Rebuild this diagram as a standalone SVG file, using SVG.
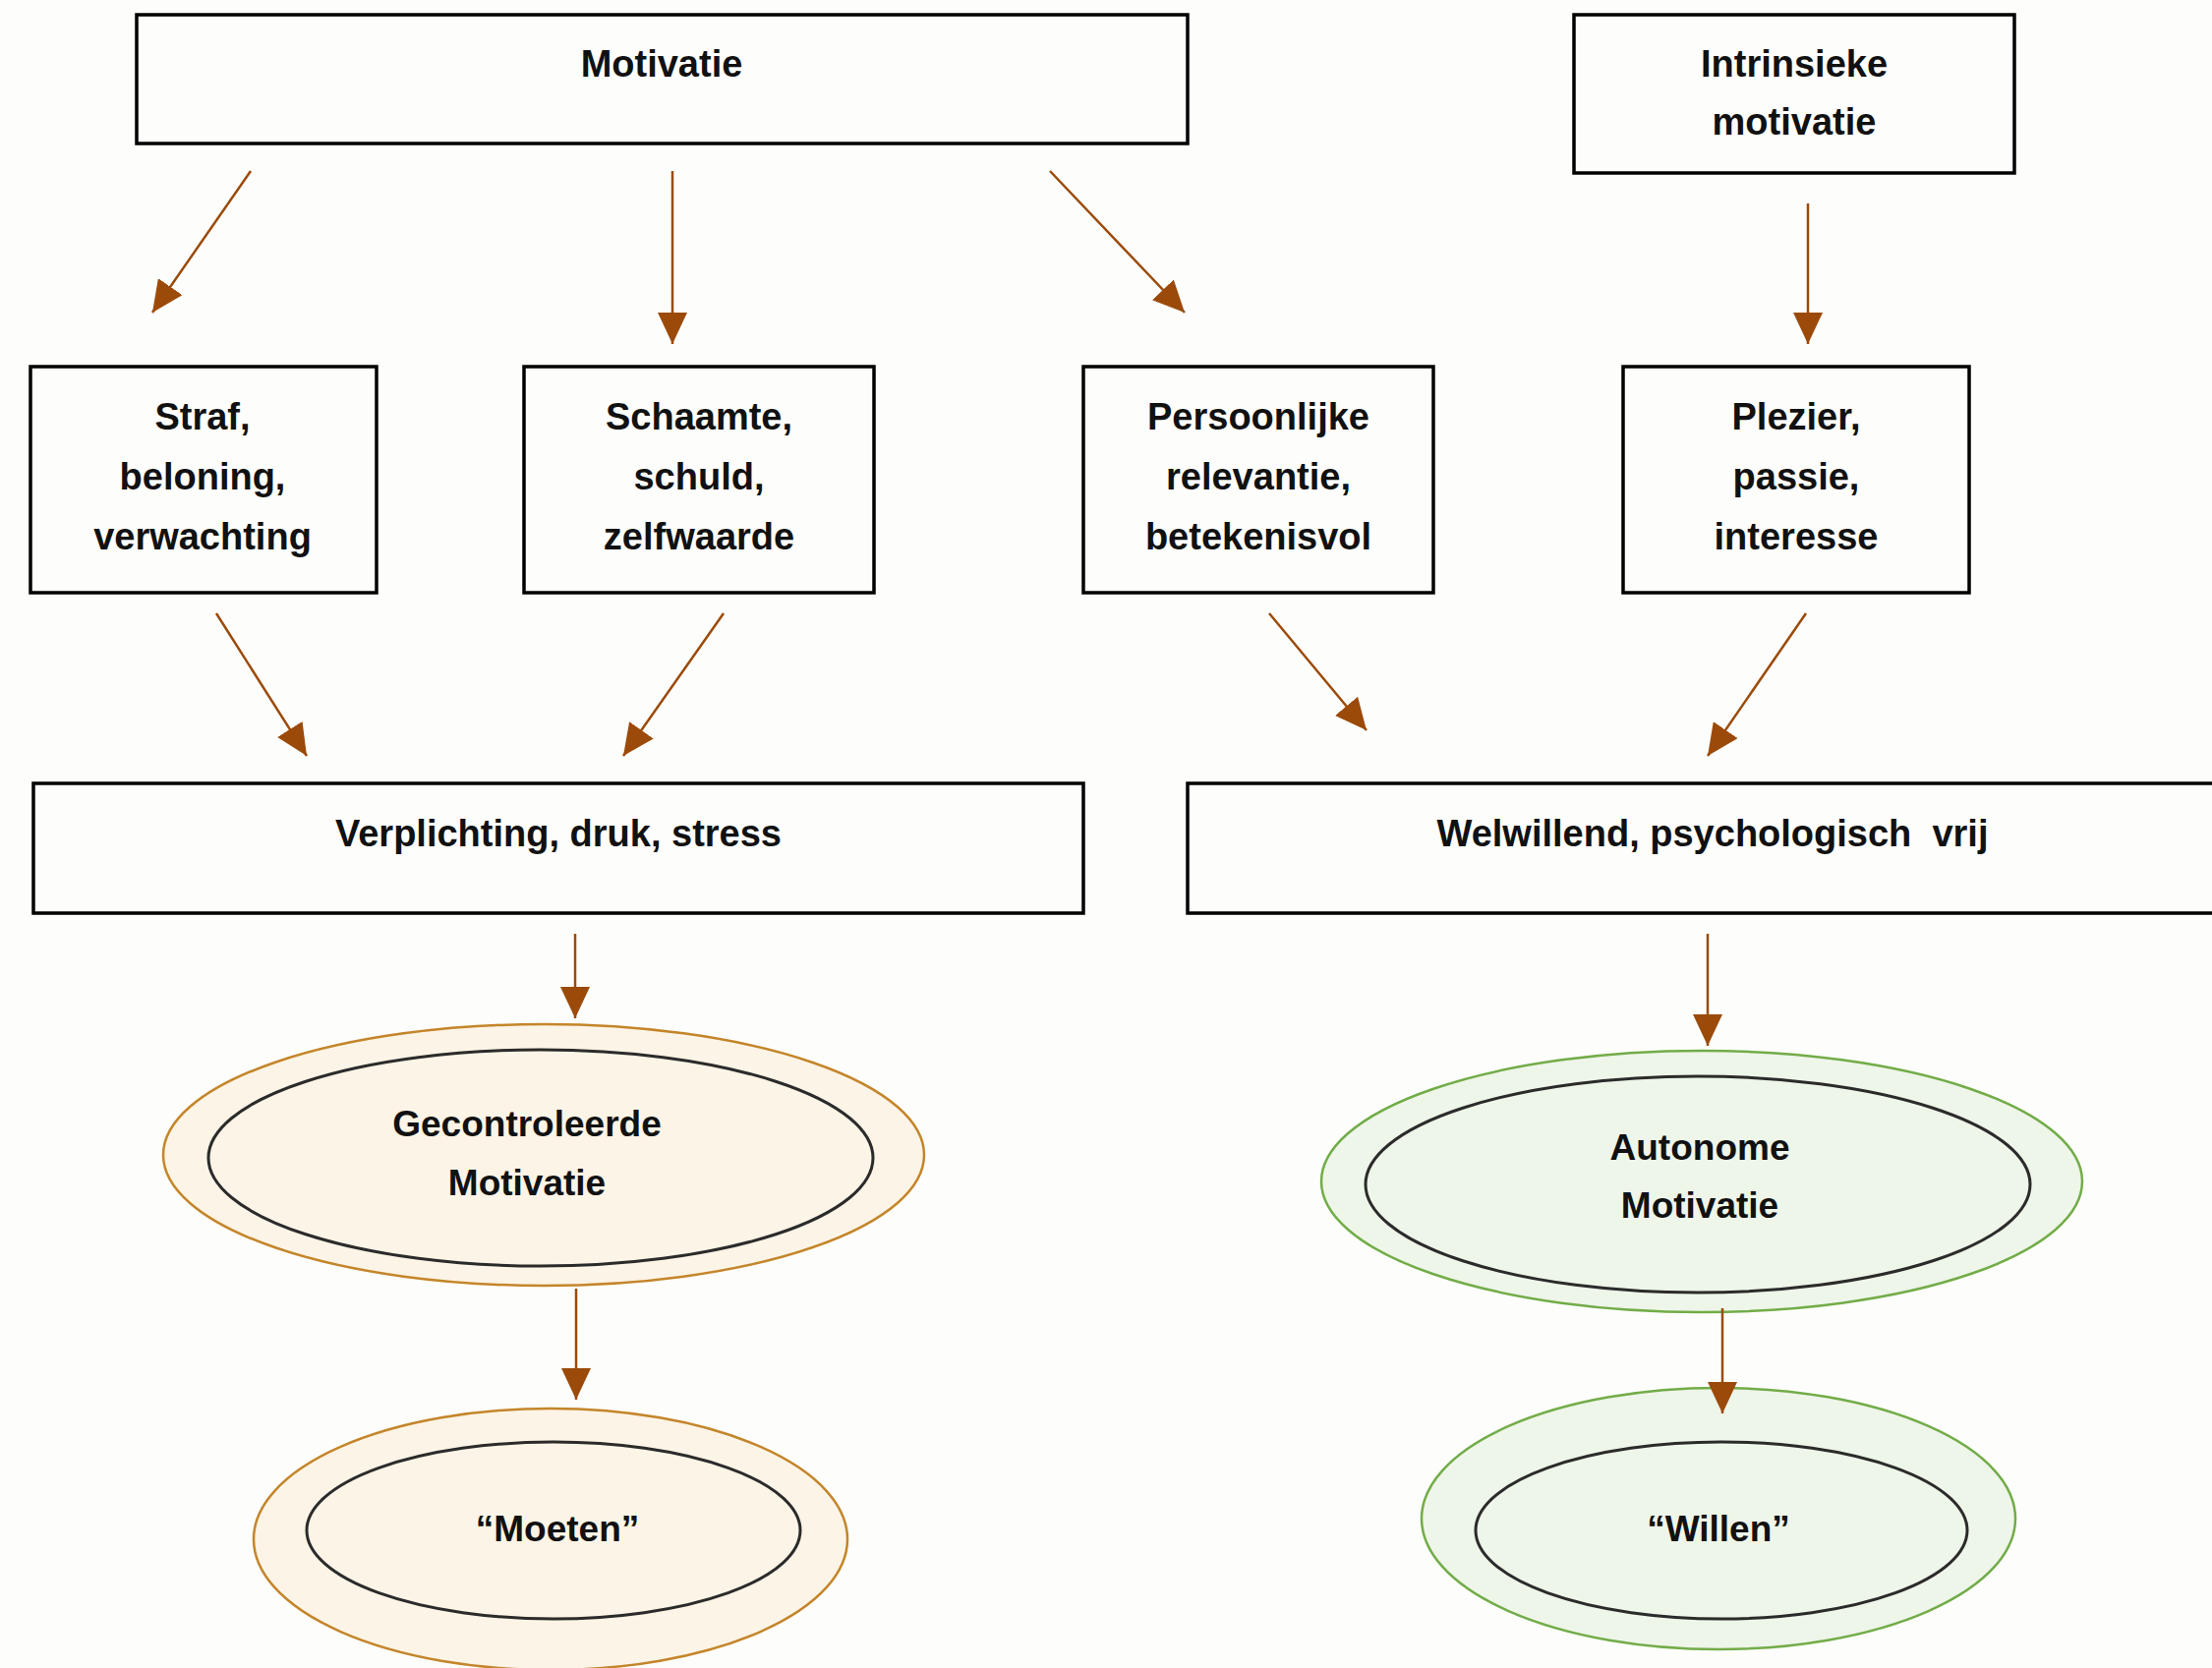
<svg xmlns="http://www.w3.org/2000/svg" width="2250" height="1697" viewBox="0 0 2250 1697">
<style>
.box{fill:#fdfefb;stroke:#000;stroke-width:3.5}
.t{font-family:"Liberation Sans",Arial,sans-serif;font-weight:bold;font-size:38px;fill:#111;text-anchor:middle;white-space:pre}
.te{font-size:37px}
.conn line{stroke:#9b4a0a;stroke-width:2.5;marker-end:url(#ah)}
.oo{fill:#fcf4e6;stroke:#c4852a;stroke-width:2.5}
.og{fill:#eef5e9;stroke:#72ac48;stroke-width:2.5}
.in{fill:none;stroke:#2b2b2b;stroke-width:3}
</style>
<defs>
<marker id="ah" markerUnits="userSpaceOnUse" markerWidth="32" markerHeight="30" refX="32" refY="15" orient="auto">
<path d="M0,0 L32,15 L0,30 z" fill="#9b4a0a"/>
</marker>
</defs>
<rect width="2250" height="1697" fill="#fdfefb"/>

<g id="n-motivatie"><rect class="box" x="139" y="15" width="1069" height="131"/><text class="t" x="673" y="78">Motivatie</text></g>
<g id="n-intrinsiek"><rect class="box" x="1601" y="15" width="448" height="161"/><text class="t" x="1825" y="78">Intrinsieke</text><text class="t" x="1825" y="137">motivatie</text></g>

<g id="n-straf"><rect class="box" x="31" y="373" width="352" height="230"/><text class="t" x="206" y="437">Straf,</text><text class="t" x="206" y="498">beloning,</text><text class="t" x="206" y="559">verwachting</text></g>
<g id="n-schaamte"><rect class="box" x="533" y="373" width="356" height="230"/><text class="t" x="711" y="437">Schaamte,</text><text class="t" x="711" y="498">schuld,</text><text class="t" x="711" y="559">zelfwaarde</text></g>
<g id="n-persoonlijk"><rect class="box" x="1102" y="373" width="356" height="230"/><text class="t" x="1280" y="437">Persoonlijke</text><text class="t" x="1280" y="498">relevantie,</text><text class="t" x="1280" y="559">betekenisvol</text></g>
<g id="n-plezier"><rect class="box" x="1651" y="373" width="352" height="230"/><text class="t" x="1827" y="437">Plezier,</text><text class="t" x="1827" y="498">passie,</text><text class="t" x="1827" y="559">interesse</text></g>

<g id="n-verplichting"><rect class="box" x="34" y="797" width="1068" height="132"/><text class="t" x="568" y="861">Verplichting, druk, stress</text></g>
<g id="n-welwillend"><rect class="box" x="1208" y="797" width="1070" height="132"/><text class="t" x="1742" y="861">Welwillend, psychologisch  vrij</text></g>

<g id="n-gecontroleerd"><ellipse class="oo" cx="553" cy="1175" rx="387" ry="133"/><ellipse class="in" cx="550" cy="1178" rx="338" ry="110"/><text class="t te" x="536" y="1156">Gecontroleerde</text><text class="t te" x="536" y="1216">Motivatie</text></g>
<g id="n-autonoom"><ellipse class="og" cx="1731" cy="1202" rx="387" ry="133"/><ellipse class="in" cx="1727" cy="1205" rx="338" ry="110"/><text class="t te" x="1729" y="1180">Autonome</text><text class="t te" x="1729" y="1239">Motivatie</text></g>
<g id="n-moeten"><ellipse class="oo" cx="560" cy="1566" rx="302" ry="133"/><ellipse class="in" cx="563" cy="1557" rx="251" ry="90"/><text class="t te" x="567" y="1568">“Moeten”</text></g>

<g class="conn" id="connectors">
<line x1="255" y1="174" x2="155" y2="318"/>
<line x1="684" y1="174" x2="684" y2="350"/>
<line x1="1068" y1="174" x2="1205" y2="318"/>
<line x1="1839" y1="207" x2="1839" y2="350"/>
<line x1="220" y1="624" x2="312" y2="769"/>
<line x1="736" y1="624" x2="634" y2="769"/>
<line x1="1291" y1="624" x2="1390" y2="743"/>
<line x1="1837" y1="624" x2="1737" y2="769"/>
<line x1="585" y1="950" x2="585" y2="1036"/>
<line x1="1737" y1="950" x2="1737" y2="1064"/>
<line x1="586" y1="1311" x2="586" y2="1424"/>
</g>

<g id="n-willen"><ellipse class="og" cx="1748" cy="1545" rx="302" ry="133"/><ellipse class="in" cx="1751" cy="1557" rx="250" ry="90"/><text class="t te" x="1748" y="1568">“Willen”</text></g>
<g class="conn" id="connectors-2"><line x1="1752" y1="1331" x2="1752" y2="1438"/></g>
</svg>
